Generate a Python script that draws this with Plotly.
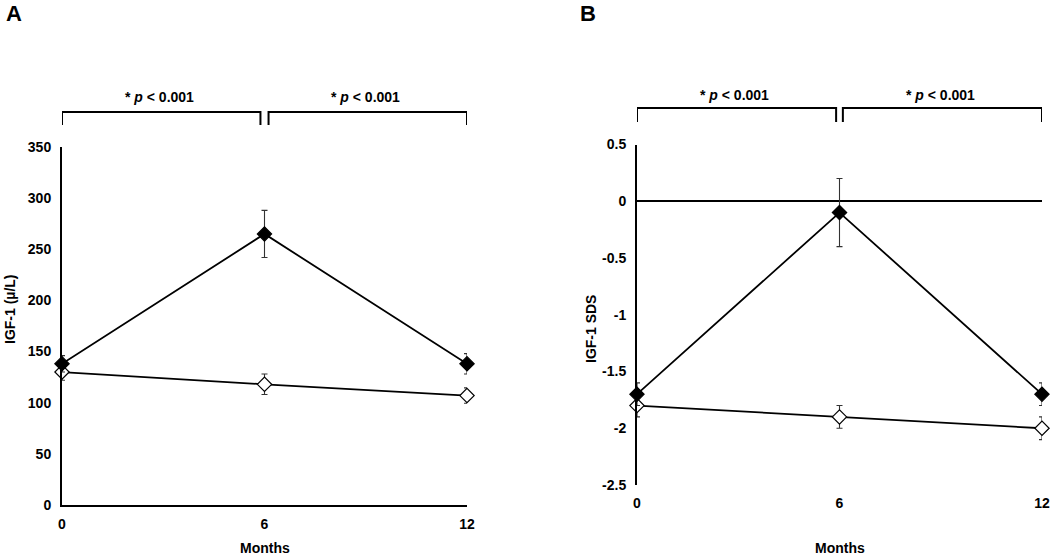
import plotly.graph_objects as go

months = [0, 6, 12]
month_labels = ["0", "6", "12"]

igf_treated = [138, 265, 138]
igf_treated_err = [8, 23, 10]
igf_control = [130, 118, 107]
igf_control_err = [8, 10, 7.5]

sds_treated = [-1.7, -0.1, -1.7]
sds_treated_err = [0.1, 0.3, 0.1]
sds_control = [-1.8, -1.9, -2.0]
sds_control_err = [0.1, 0.1, 0.1]

igf_ticks = [0, 50, 100, 150, 200, 250, 300, 350]
sds_ticks = [-2.5, -2, -1.5, -1, -0.5, 0, 0.5]
sds_ticktext = ["-2.5", "-2", "-1.5", "-1", "-0.5", "0", "0.5"]

W, H = 1050, 559
FONT = "Liberation Sans, Arial, sans-serif"


def px(x):
    return x / W


def py(y):
    return 1 - y / H


fig = go.Figure()


def add_series(xa, ya, y, err, filled):
    fig.add_trace(go.Scatter(
        x=months, y=y, xaxis=xa, yaxis=ya, mode="lines+markers",
        line=dict(color="black", width=1.8),
        marker=dict(symbol="diamond", size=11,
                    color="black" if filled else "white",
                    line=dict(color="black", width=1.2)),
        error_y=dict(type="data", array=err, visible=True,
                     color="#333333", thickness=1.1, width=3),
        cliponaxis=False, showlegend=False,
    ))


add_series("x", "y", igf_control, igf_control_err, False)
add_series("x", "y", igf_treated, igf_treated_err, True)
add_series("x2", "y2", sds_control, sds_control_err, False)
add_series("x2", "y2", sds_treated, sds_treated_err, True)

tickfont = dict(family=FONT, size=14, color="black", weight="bold")
hidden_ticks = dict(ticks="outside", ticklen=5, tickcolor="rgba(0,0,0,0)")

fig.update_layout(
    template="none",
    width=W, height=H, autosize=False,
    margin=dict(l=0, r=0, t=0, b=0, pad=0, autoexpand=False),
    paper_bgcolor="white", plot_bgcolor="white",
    xaxis=dict(domain=[px(62), px(467)], range=[0, 12], tickvals=months,
               ticktext=month_labels, showline=True, linecolor="black",
               linewidth=2, showgrid=False, zeroline=False,
               tickfont=tickfont, anchor="y", automargin=False,
               **hidden_ticks),
    yaxis=dict(domain=[py(505), py(147)], range=[0, 350], tickvals=igf_ticks,
               showline=True, linecolor="black", linewidth=2, showgrid=False,
               zeroline=False, ticks="", tickfont=tickfont, anchor="x",
               ticklabelstandoff=6, automargin=False),
    xaxis2=dict(domain=[px(637), px(1042)], range=[0, 12], tickvals=months,
                ticktext=month_labels, showline=False, showgrid=False,
                zeroline=False, tickfont=tickfont, anchor="y2",
                automargin=False, **hidden_ticks),
    yaxis2=dict(domain=[py(485), py(144.5)], range=[-2.5, 0.5],
                tickvals=sds_ticks, ticktext=sds_ticktext, showline=True,
                linecolor="black", linewidth=2, showgrid=False,
                zeroline=True, zerolinecolor="black", zerolinewidth=2,
                ticks="", tickfont=tickfont, anchor="x2",
                ticklabelstandoff=6, automargin=False),
)

# significance brackets
brackets = [
    ("x", 0, 5.88, 112, 125), ("x", 6.12, 12, 112, 125),
    ("x2", 0, 5.9, 108, 122), ("x2", 6.1, 12, 108, 122),
]
for xr, x0, x1, ytop, ybot in brackets:
    fig.add_shape(type="path", xref=xr, yref="paper",
                  path=f"M {x0},{py(ybot)} L {x0},{py(ytop)} L {x1},{py(ytop)} L {x1},{py(ybot)}",
                  line=dict(color="black", width=2))

ann_font = dict(family=FONT, size=14, color="black", weight="bold")
for xr, xc, yc in [("x", 2.9, 97), ("x", 9.0, 97), ("x2", 2.9, 95), ("x2", 9.0, 95)]:
    fig.add_annotation(x=xc, y=py(yc), xref=xr, yref="paper",
                       text="* <i>p</i> < 0.001", showarrow=False,
                       font=ann_font, xanchor="center", yanchor="middle")

# axis titles
fig.add_annotation(x=px(10), y=py(309), xref="paper", yref="paper",
                   text="IGF-1 (µ/L)", textangle=-90, showarrow=False,
                   xanchor="center", yanchor="middle",
                   font=dict(family=FONT, size=14, color="black", weight="bold"))
fig.add_annotation(x=px(591), y=py(329), xref="paper", yref="paper",
                   text="IGF-1 SDS", textangle=-90, showarrow=False,
                   xanchor="center", yanchor="middle",
                   font=dict(family=FONT, size=14, color="black", weight="bold"))
for xc in [265, 840]:
    fig.add_annotation(x=px(xc), y=py(548), xref="paper", yref="paper",
                       text="Months", showarrow=False,
                       xanchor="center", yanchor="middle",
                       font=dict(family=FONT, size=14, color="black", weight="bold"))

# panel letters
for letter, xc in [("A", 14), ("B", 588)]:
    fig.add_annotation(x=px(xc), y=py(13), xref="paper", yref="paper",
                       text=letter, showarrow=False,
                       xanchor="center", yanchor="middle",
                       font=dict(family=FONT, size=22, color="black", weight="bold"))

fig.write_html(
    "out.html",
    config={"responsive": False, "displayModeBar": False},
    post_script="document.body.style.margin='0';document.body.style.overflow='hidden';",
)
